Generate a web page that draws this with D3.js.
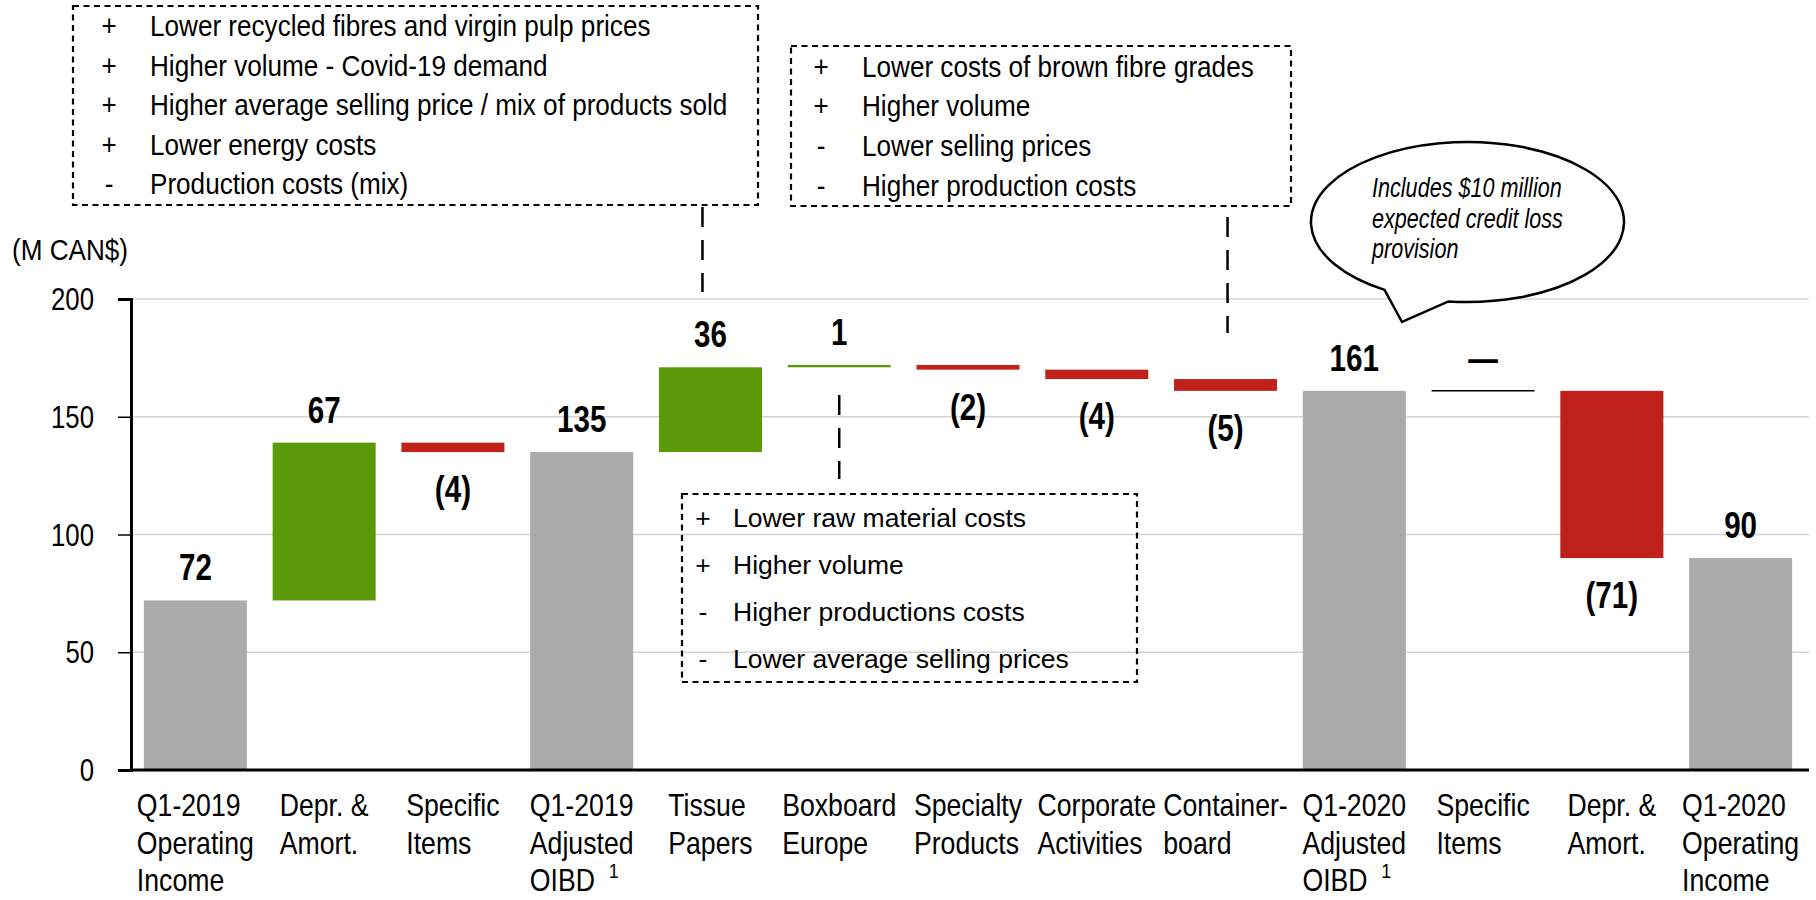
<!DOCTYPE html>
<html>
<head>
<meta charset="utf-8">
<script src="https://cdn.jsdelivr.net/npm/d3@7"></script>
<style>
  body { margin: 0; background: #fff; }
  text { font-family: 'Liberation Sans', Arial, sans-serif; fill: #000; }
</style>
</head>
<body>
<svg id="chart" width="1816" height="900"></svg>
<script>
const categoryLines = [
  ['Q1-2019', 'Operating', 'Income'],
  ['Depr. &', 'Amort.'],
  ['Specific', 'Items'],
  ['Q1-2019', 'Adjusted', 'OIBD'],
  ['Tissue', 'Papers'],
  ['Boxboard', 'Europe'],
  ['Specialty', 'Products'],
  ['Corporate', 'Activities'],
  ['Container-', 'board'],
  ['Q1-2020', 'Adjusted', 'OIBD'],
  ['Specific', 'Items'],
  ['Depr. &', 'Amort.'],
  ['Q1-2020', 'Operating', 'Income']
]
const footnotes = ['', '', '', '1', '', '', '', '', '', '1', '', '', '']
const values = [72, 67, -4, 135, 36, 1, -2, -4, -5, 161, 0, -71, 90]
const isTotal = [true, false, false, true, false, false, false, false, false, true, false, false, true]
const valueLabels = ['72', '67', '(4)', '135', '36', '1', '(2)', '(4)', '(5)', '161', '—', '(71)', '90']
const yTicks = [0, 50, 100, 150, 200]
const unitLabel = '(M CAN$)'

const tissueNotes = [
  ['+', 'Lower recycled fibres and virgin pulp prices'],
  ['+', 'Higher volume - Covid-19 demand'],
  ['+', 'Higher average selling price / mix of products sold'],
  ['+', 'Lower energy costs'],
  ['-', 'Production costs (mix)']
]
const containerNotes = [
  ['+', 'Lower costs of brown fibre grades'],
  ['+', 'Higher volume'],
  ['-', 'Lower selling prices'],
  ['-', 'Higher production costs']
]
const boxboardNotes = [
  ['+', 'Lower raw material costs'],
  ['+', 'Higher volume'],
  ['-', 'Higher productions costs'],
  ['-', 'Lower average selling prices']
]
const bubbleLines = ['Includes $10 million', 'expected credit loss', 'provision']

const colors = { total: '#ababab', up: '#5a9a08', down: '#c0211a' }

const svg = d3.select('#chart')

// squeeze text horizontally, the source uses narrow faces
function squeeze(sel, ratio) {
  sel.each(function () {
    const w = this.getComputedTextLength()
    d3.select(this)
      .attr('textLength', w * ratio)
      .attr('lengthAdjust', 'spacingAndGlyphs')
  })
}

let running = 0
const steps = values.map((v, i) => {
  let start, end
  if (isTotal[i]) {
    start = 0
    end = v
  } else {
    start = running
    end = running + v
  }
  running = end
  return { i, v, start, end, total: isTotal[i], label: valueLabels[i] }
})

const xScale = d3.scaleBand()
  .domain(d3.range(values.length))
  .range([131, 1805])
  .paddingInner(0.2)
  .paddingOuter(0.1)

const yScale = d3.scaleLinear()
  .domain([0, 200])
  .range([770, 299])

// gridlines
svg.append('g')
  .selectAll('line')
  .data(yTicks.filter(d => d > 0))
  .join('line')
  .attr('x1', 131)
  .attr('x2', 1809)
  .attr('y1', d => yScale(d))
  .attr('y2', d => yScale(d))
  .attr('stroke', '#d4d4d4')
  .attr('stroke-width', 1.5)

// bars
const bars = svg.append('g')

bars.selectAll('rect')
  .data(steps.filter(d => d.v !== 0))
  .join('rect')
  .attr('x', d => xScale(d.i))
  .attr('width', xScale.bandwidth())
  .attr('y', d => yScale(Math.max(d.start, d.end)))
  .attr('height', d => Math.abs(yScale(d.start) - yScale(d.end)))
  .attr('fill', d => d.total ? colors.total : (d.v > 0 ? colors.up : colors.down))

bars.selectAll('line')
  .data(steps.filter(d => d.v === 0))
  .join('line')
  .attr('x1', d => xScale(d.i))
  .attr('x2', d => xScale(d.i) + xScale.bandwidth())
  .attr('y1', d => yScale(d.end))
  .attr('y2', d => yScale(d.end))
  .attr('stroke', '#000')
  .attr('stroke-width', 1.5)

// value labels
const valueText = svg.append('g')
  .selectAll('text')
  .data(steps)
  .join('text')
  .attr('x', d => xScale(d.i) + xScale.bandwidth() / 2)
  .attr('y', d => d.v < 0 && !d.total
    ? yScale(Math.min(d.start, d.end)) + 50
    : yScale(Math.max(d.start, d.end)) - 20)
  .attr('text-anchor', 'middle')
  .attr('font-size', 37)
  .attr('font-weight', 'bold')
  .text(d => d.label)
squeeze(valueText, 0.8)

// axes
const leftAxis = d3.axisLeft(yScale)
  .tickValues(yTicks)
  .tickSize(13)
  .tickPadding(24)

const yAxis = svg.append('g')
  .attr('transform', 'translate(131, 0)')
  .call(leftAxis)
  .attr('font-family', null)

yAxis.select('.domain').attr('stroke-width', 3)
yAxis.selectAll('.tick line').attr('stroke-width', 1.5)
const tickText = yAxis.selectAll('.tick text')
  .attr('font-size', 31)
  .attr('dy', '0.34em')
squeeze(tickText, 0.83)

svg.append('line')
  .attr('x1', 131)
  .attr('x2', 1809)
  .attr('y1', yScale(0))
  .attr('y2', yScale(0))
  .attr('stroke', '#000')
  .attr('stroke-width', 3)

const unit = svg.append('text')
  .attr('x', 12)
  .attr('y', 260)
  .attr('font-size', 29)
  .text(unitLabel)
squeeze(unit, 0.9)

// category labels: block centred on the band, lines left aligned,
// narrowed with a group scale
const catScale = 0.86
categoryLines.forEach((lines, i) => {
  const g = svg.append('g')
  const texts = g.selectAll('text')
    .data(lines)
    .join('text')
    .attr('y', (d, j) => 816.5 + j * 37.2)
    .attr('font-size', 31)
    .text(d => d)
  const widths = texts.nodes().map(n => n.getComputedTextLength())
  const maxW = d3.max(widths) * catScale
  g.attr('transform', `translate(${xScale(i) + xScale.bandwidth() / 2 - maxW / 2}, 0) scale(${catScale}, 1)`)
  if (footnotes[i]) {
    g.append('text')
      .attr('x', widths[widths.length - 1] + 16)
      .attr('y', 816.5 + (lines.length - 1) * 37.2 - 13)
      .attr('font-size', 21)
      .text(footnotes[i])
  }
})

// dotted note boxes
function noteBox(notes, box, signX, textX, baseline, gap, size, ratio) {
  const g = svg.append('g')
  g.append('rect')
    .attr('x', box[0])
    .attr('y', box[1])
    .attr('width', box[2] - box[0])
    .attr('height', box[3] - box[1])
    .attr('fill', 'none')
    .attr('stroke', '#000')
    .attr('stroke-width', 2.2)
    .attr('stroke-dasharray', '6 4.5')
  const signs = g.selectAll('text.sign')
    .data(notes)
    .join('text')
    .attr('class', 'sign')
    .attr('x', signX)
    .attr('y', (d, j) => baseline + j * gap)
    .attr('text-anchor', 'middle')
    .attr('font-size', size)
    .text(d => d[0])
  squeeze(signs, ratio)
  const lines = g.selectAll('text.note')
    .data(notes)
    .join('text')
    .attr('class', 'note')
    .attr('x', textX)
    .attr('y', (d, j) => baseline + j * gap)
    .attr('font-size', size)
    .text(d => d[1])
  squeeze(lines, ratio)
}

noteBox(tissueNotes, [73, 6, 758, 205], 109, 150, 36, 39.6, 29, 0.9)
noteBox(containerNotes, [791, 46, 1291, 206], 821, 862, 76.5, 39.7, 29, 0.9)
noteBox(boxboardNotes, [682, 494, 1137, 682], 703, 733, 527, 47, 26.5, 1)

// dashed connectors
const connectors = [
  { x: xScale(4) + xScale.bandwidth() / 2 - 8, y1: 207, y2: 292 },
  { x: xScale(8) + xScale.bandwidth() / 2 + 2, y1: 217, y2: 333 },
  { x: xScale(5) + xScale.bandwidth() / 2, y1: 395, y2: 479 }
]
svg.append('g')
  .selectAll('line')
  .data(connectors)
  .join('line')
  .attr('x1', d => d.x)
  .attr('x2', d => d.x)
  .attr('y1', d => d.y1)
  .attr('y2', d => d.y2)
  .attr('stroke', '#000')
  .attr('stroke-width', 2.5)
  .attr('stroke-dasharray', '20 13')

// speech bubble
const bub = { cx: 1467.5, cy: 222, rx: 156.5, ry: 80 }
const onEllipse = a => [
  bub.cx + bub.rx * Math.cos(a * Math.PI / 180),
  bub.cy + bub.ry * Math.sin(a * Math.PI / 180)
]
const tailStart = onEllipse(122)
const tailEnd = onEllipse(97)
const tip = [1402, 322]

svg.append('path')
  .attr('d', `M${tailStart} L${tip} L${tailEnd} A${bub.rx},${bub.ry} 0 1 0 ${tailStart} Z`)
  .attr('fill', '#fff')
  .attr('stroke', '#000')
  .attr('stroke-width', 2.5)

const bubbleText = svg.append('g')
  .selectAll('text')
  .data(bubbleLines)
  .join('text')
  .attr('x', 1372)
  .attr('y', (d, j) => 197 + j * 30.5)
  .attr('font-size', 27)
  .attr('font-style', 'italic')
  .text(d => d)
squeeze(bubbleText, 0.8)
</script>
</body>
</html>
